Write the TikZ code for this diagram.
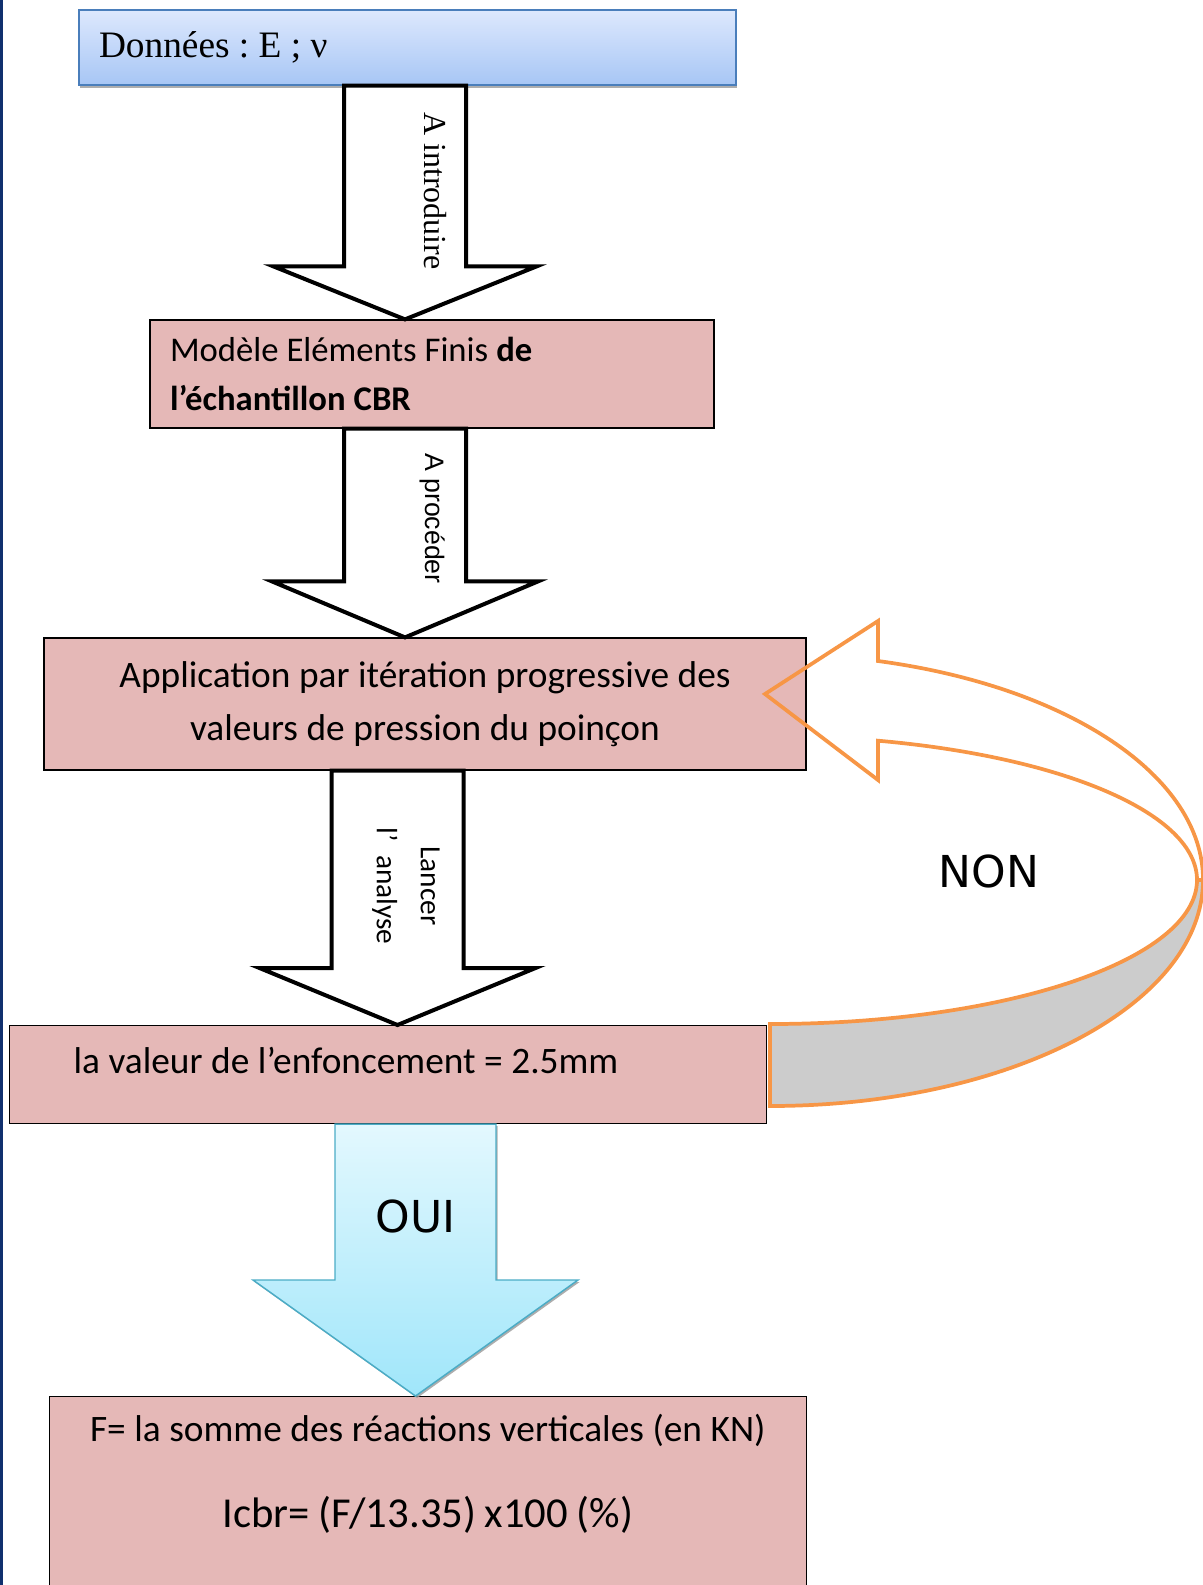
\documentclass[tikz,border=0pt]{standalone}
\usepackage{fontspec}
\setmainfont{Carlito}
\newfontfamily\tnr{Liberation Serif}
\newfontfamily\ari{Liberation Sans}
\newfontfamily\djv{DejaVu Sans}
\usetikzlibrary{calc,shadows}
\frenchspacing
\newcommand{\espace}{\spaceskip=0.23em\relax\xspaceskip=0.23em\relax}
\newcommand{\espacet}{\spaceskip=0.25em\relax\xspaceskip=0.25em\relax}
\definecolor{rose}{HTML}{E5B8B7}
\definecolor{bleuhaut}{HTML}{DDE8FD}
\definecolor{bleubas}{HTML}{A7C6F5}
\definecolor{bleubord}{HTML}{4A7EBB}
\definecolor{cyanhaut}{HTML}{E3F8FE}
\definecolor{cyanbas}{HTML}{A0E6FA}
\definecolor{cyanbord}{HTML}{4BACC6}
\definecolor{orangenon}{HTML}{F79646}
\definecolor{grisfond}{HTML}{CCCCCC}
\definecolor{marine}{HTML}{10306E}
% #2 -> #3 : x du centre, demi-tige, demi-tete, longueur de tete
\newcommand{\fleche}[7][]{%
  \draw[#1] (#4-#5,0 |- #2.south) -- ($(#4-#5,0 |- #3.north)+(0,-#7)$)
    -- ($(#4-#6,0 |- #3.north)+(0,-#7)$) -- (#4,0 |- #3.north)
    -- ($(#4+#6,0 |- #3.north)+(0,-#7)$) -- ($(#4+#5,0 |- #3.north)+(0,-#7)$)
    -- (#4+#5,0 |- #2.south) -- cycle;}

\begin{document}
\begin{tikzpicture}[x=0.75pt,y=-0.75pt,
    boite/.style={draw=black,line width=0.9pt,fill=rose,inner sep=0pt,
      execute at begin node=\espace},
    noire/.style={draw=black,fill=white,line width=3pt,line join=miter},
    oui/.style={top color=cyanhaut,bottom color=cyanbas,draw=cyanbord,line width=1.1pt,
      drop shadow={shadow xshift=1.2pt,shadow yshift=-1.5pt,fill=gray!80,opacity=.8}},
    non/.style={draw=orangenon,line width=2.8pt,line join=miter},
    vert/.style={rotate=-90,inner sep=0pt}]
  \useasboundingbox (0,0) rectangle (1203,1585);
  \fill[marine] (0,0) rectangle (3,1585);

  \node[boite,top color=bleuhaut,bottom color=bleubas,draw=bleubord,
    drop shadow={shadow xshift=0.8pt,shadow yshift=-2pt,fill=gray!80,opacity=.8},
    minimum width=492.75pt,minimum height=56.25pt,text width=462.75pt,align=left,
    execute at begin node=\espacet,
    font=\tnr\fontsize{28}{34}\selectfont] (donnees) at (407.5,47.5) {Données : E ; ν};
  \node[boite,minimum width=423pt,minimum height=81pt,text width=393pt,align=left,
    font=\fontsize{26}{36.75}\selectfont] (modele) at (432,374)
    {Modèle Eléments Finis \textbf{de}\\ \textbf{l’échantillon CBR}};
  \node[boite,minimum width=571.5pt,minimum height=99pt,text width=525pt,align=center,
    font=\fontsize{28}{39.5}\selectfont] (appli) at (425,704)
    {Application par itération progressive des\\ valeurs de pression du poinçon};
  \node[boite,anchor=north west,minimum width=567.75pt,text width=471.75pt,align=left,
    text height=36pt,text depth=37.5pt,font=\fontsize{28}{34}\selectfont] (enfonc) at (9,1025)
    {la valeur de l’enfoncement = 2.5mm};
  \node[boite,anchor=north west,minimum width=568pt,text width=568pt,align=center,
    inner ysep=12.75pt,text height=21pt,text depth=106.5pt,
    font=\fontsize{28}{64.5}\selectfont] (resultat) at (48.5,1396)
    {F= la somme des réactions verticales (en KN)\\ {\fontsize{32}{64.5}\selectfont Icbr= (F/13.35) x100 (\%)}};

  \fleche[noire]{donnees}{modele}{405}{61}{131.5}{53}
  \fleche[noire]{modele}{appli}{405}{61}{133}{56}
  \fleche[noire]{appli}{enfonc}{397.5}{66}{138}{57}
  \fleche[oui]{enfonc}{resultat}{415.5}{80.5}{162.5}{116}

  \node[vert,anchor=west,font=\tnr\fontsize{24}{28}\selectfont] (t-intro) at (435,112) {A introduire};
  \node[vert,anchor=west,font=\ari\fontsize{20}{24}\selectfont] (t-proc) at (433,453) {A procéder};
  \node[vert,align=center,font=\fontsize{22}{33}\selectfont] (t-lancer) at (406,886) {Lancer\\ l’~~analyse};
  \node[font=\djv\fontsize{33}{40}\selectfont] (t-oui) at (415.5,1216) {OUI};

  % boucle NON
  \coordinate (c-non) at (770,880);
  \draw[non,fill=grisfond] (770,1024) arc[start angle=90,end angle=0,x radius=427,y radius=144]
    -- (1203,880) arc[start angle=0,end angle=90,x radius=433,y radius=226] -- cycle;
  \draw[non] (878,661) arc[start angle=-75.56,end angle=0,x radius=433,y radius=226]
    -- (1197,880) arc[start angle=0,end angle=-75.35,x radius=427,y radius=144]
    -- (878,780) -- (765,694) -- (878,621) -- cycle;
  \node[font=\djv\fontsize{33}{40}\selectfont] (t-non) at (989,871) {NON};
\end{tikzpicture}
\end{document}
